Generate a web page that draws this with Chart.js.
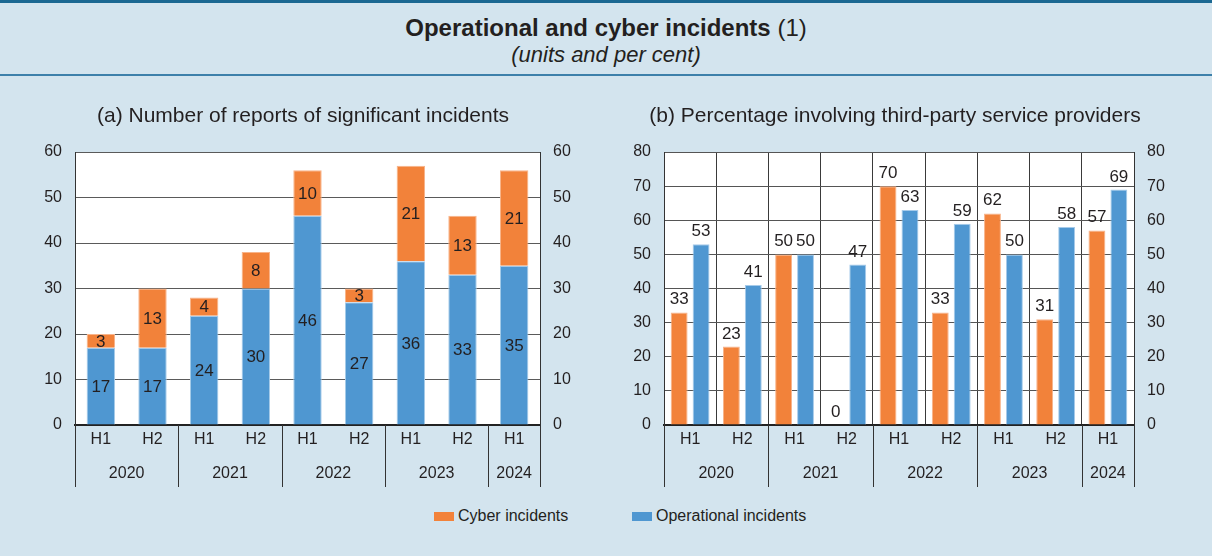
<!DOCTYPE html>
<html><head><meta charset="utf-8">
<script src="https://cdn.jsdelivr.net/npm/chart.js@4.4.1/dist/chart.umd.min.js"></script>
<style>
body{margin:0;background:#d3e4ee;width:1212px;height:556px;overflow:hidden;font-family:"Liberation Sans",Arial,sans-serif;color:#231f20;}
#hdr{position:absolute;left:0;top:0;width:1212px;height:71px;border-top:3px solid #1b6892;border-bottom:2px solid #3d80aa;}
#t1{position:absolute;left:0;width:1212px;top:14px;text-align:center;font-size:24px;line-height:28px;}
#t1 b{font-weight:bold}
#t2{position:absolute;left:0;width:1212px;top:42px;text-align:center;font-size:22px;font-style:italic;line-height:26px;}
canvas{position:absolute;top:90px;}
#c1{left:0px} #c2{left:606px}
.lg{position:absolute;top:506px;font-size:16px;line-height:20px;white-space:nowrap;}
.sw{position:absolute;width:20px;height:9px;top:512px}
</style></head>
<body>
<div id="hdr"></div>
<div id="t1"><b>Operational and cyber incidents</b> (1)</div>
<div id="t2">(units and per cent)</div>
<canvas id="c1" width="606" height="410"></canvas>
<canvas id="c2" width="606" height="410"></canvas>
<div class="sw" style="left:434px;background:#f2823a"></div>
<div class="lg" style="left:458px">Cyber incidents</div>
<div class="sw" style="left:632px;background:#4f97d1"></div>
<div class="lg" style="left:656px">Operational incidents</div>
<script>
const halves = ['H1','H2','H1','H2','H1','H2','H1','H2','H1'];
const years = ['2020','2021','2022','2023','2024'];
const yearSpans = [2,2,2,2,1];
const reportsOperational = [17,17,24,30,46,27,36,33,35];
const reportsCyber = [3,13,4,8,10,3,21,13,21];
const shareCyber = [33,23,50,0,70,33,62,31,57];
const shareOperational = [53,41,50,47,63,59,50,58,69];

const FONT = '"Liberation Sans", Arial, sans-serif';
const TXT = '#231f20';
const ORANGE = '#f2823a', BLUE = '#4f97d1';
const ORANGE_B = '#f8b48a', BLUE_B = '#a6cbea';

const yearsPlugin = {
  id: 'years',
  afterDraw(chart) {
    const ctx = chart.ctx, xs = chart.scales.x, ca = chart.chartArea;
    const n = halves.length;
    const cw = (ca.right - ca.left) / n;
    ctx.save();
    ctx.strokeStyle = '#333';
    ctx.lineWidth = 1;
    ctx.fillStyle = TXT;
    ctx.font = '16px ' + FONT;
    ctx.textAlign = 'center';
    ctx.textBaseline = 'middle';
    let idx = 0;
    const drawSep = (px) => {
      const x = Math.round(px) + 0.5;
      ctx.beginPath(); ctx.moveTo(x, ca.bottom); ctx.lineTo(x, ca.bottom + 62); ctx.stroke();
    };
    drawSep(xs.getPixelForValue(0) - cw / 2);
    years.forEach((y, k) => {
      const a = xs.getPixelForValue(idx) - cw / 2;
      idx += yearSpans[k];
      const b = xs.getPixelForValue(idx - 1) + cw / 2;
      ctx.fillText(y, (a + b) / 2, ca.bottom + 49);
      drawSep(b);
    });
    ctx.restore();
  }
};

const stackLabels = {
  id: 'stackLabels',
  afterDatasetsDraw(chart) {
    const ctx = chart.ctx;
    ctx.save();
    ctx.fillStyle = TXT;
    ctx.font = '17px ' + FONT;
    ctx.textAlign = 'center';
    ctx.textBaseline = 'middle';
    chart.data.datasets.forEach((ds, i) => {
      chart.getDatasetMeta(i).data.forEach((el, j) => {
        ctx.fillText(String(ds.data[j]), el.x, (el.y + el.base) / 2 + 1);
      });
    });
    ctx.restore();
  }
};

const topLabels = {
  id: 'topLabels',
  afterDatasetsDraw(chart) {
    const ctx = chart.ctx;
    ctx.save();
    ctx.fillStyle = TXT;
    ctx.font = '17px ' + FONT;
    ctx.textAlign = 'center';
    ctx.textBaseline = 'alphabetic';
    chart.data.datasets.forEach((ds, i) => {
      chart.getDatasetMeta(i).data.forEach((el, j) => {
        ctx.fillText(String(ds.data[j]), el.x, el.y - 8);
      });
    });
    ctx.restore();
  }
};

function yAxis(max, pos, width, grid, gridColor) {
  return {
    position: pos, min: 0, max: max,
    ticks: { stepSize: 10, color: TXT, font: { size: 16, family: FONT }, padding: 13 },
    grid: { display: grid, color: gridColor, lineWidth: 1, drawTicks: false },
    border: { display: true, color: '#333', width: 1 },
    afterFit: (s) => { s.width = width; }
  };
}

function xAxis(grid, gridColor) {
  return {
    ticks: { color: TXT, font: { size: 16, family: FONT }, padding: 5, maxRotation: 0, autoSkip: false },
    grid: { display: grid, color: gridColor, lineWidth: 1, drawTicks: false },
    border: { display: true, color: '#222', width: 2 },
    afterFit: (s) => { s.height = 75; }
  };
}

const whiteArea = {
  id: 'bg', beforeDraw(chart) {
    const { ctx, chartArea: a } = chart;
    ctx.save(); ctx.fillStyle = '#ffffff'; ctx.fillRect(a.left, a.top, a.right - a.left, a.bottom - a.top); ctx.restore();
  }
};

new Chart(document.getElementById('c1'), {
  type: 'bar',
  data: {
    labels: halves,
    datasets: [
      { label: 'Operational incidents', data: reportsOperational, backgroundColor: BLUE, borderColor: BLUE_B, borderWidth: 1, barPercentage: 0.55, categoryPercentage: 1 },
      { label: 'Cyber incidents', data: reportsCyber, backgroundColor: ORANGE, borderColor: ORANGE_B, borderWidth: 1, barPercentage: 0.55, categoryPercentage: 1 }
    ]
  },
  options: {
    responsive: false, animation: false,
    layout: { padding: 0 },
    plugins: {
      legend: { display: false }, tooltip: { enabled: false },
      title: { display: true, text: '(a) Number of reports of significant incidents', color: TXT, font: { size: 21, family: FONT, weight: 'normal' }, padding: { top: 13.4, bottom: 23.4 } }
    },
    scales: {
      x: Object.assign(xAxis(false, '#555'), { stacked: true }),
      y: Object.assign(yAxis(60, 'left', 75, true, '#5a5a5a'), { stacked: true }),
      y2: yAxis(60, 'right', 66, false, '#5a5a5a')
    }
  },
  plugins: [whiteArea, stackLabels, yearsPlugin]
});

new Chart(document.getElementById('c2'), {
  type: 'bar',
  data: {
    labels: halves,
    datasets: [
      { label: 'Cyber incidents', data: shareCyber, backgroundColor: ORANGE, borderColor: ORANGE_B, borderWidth: 1, barPercentage: 0.77, categoryPercentage: 0.84 },
      { label: 'Operational incidents', data: shareOperational, backgroundColor: BLUE, borderColor: BLUE_B, borderWidth: 1, barPercentage: 0.77, categoryPercentage: 0.84 }
    ]
  },
  options: {
    responsive: false, animation: false,
    layout: { padding: { right: 28 } },
    plugins: {
      legend: { display: false }, tooltip: { enabled: false },
      title: { display: true, text: '(b) Percentage involving third-party service providers', color: TXT, font: { size: 21, family: FONT, weight: 'normal' }, padding: { top: 13.4, bottom: 23.4 } }
    },
    scales: {
      x: xAxis(true, '#3a3a3a'),
      y: yAxis(80, 'left', 58, true, '#555'),
      y2: yAxis(80, 'right', 50, false, '#555')
    }
  },
  plugins: [whiteArea, topLabels, yearsPlugin]
});
</script>
</body></html>
